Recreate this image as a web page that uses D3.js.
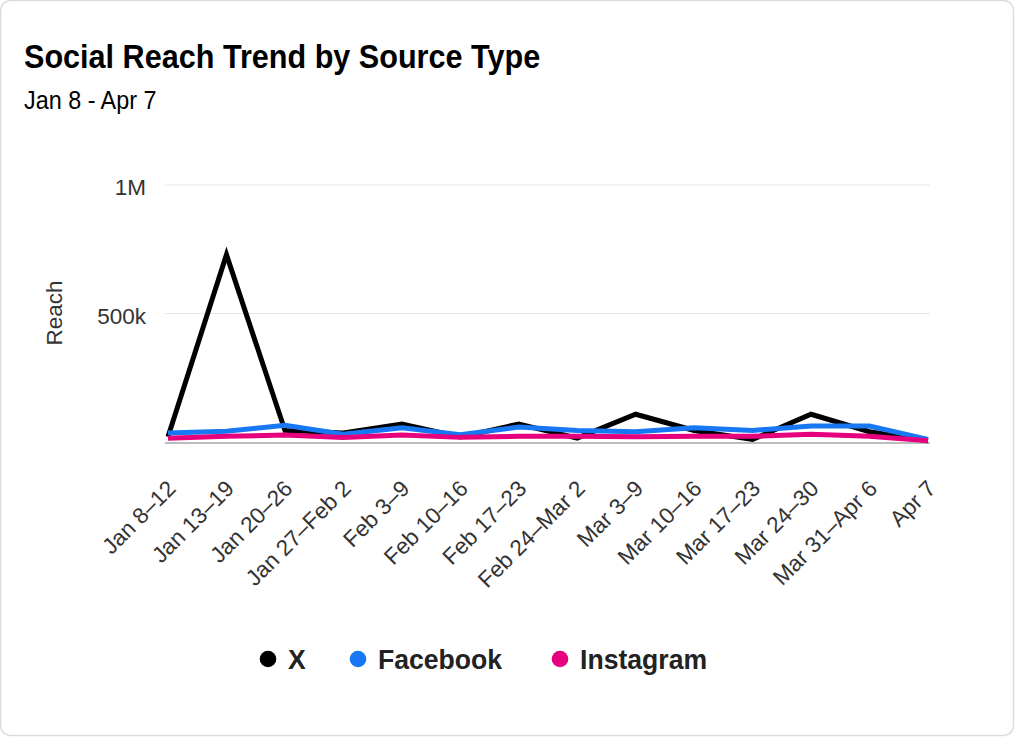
<!DOCTYPE html>
<html><head><meta charset="utf-8">
<script src="https://cdn.jsdelivr.net/npm/d3@7"></script>
<style>
html,body{margin:0;padding:0;background:#fff;}
body{font-family:"Liberation Sans",Arial,Helvetica,sans-serif;}
</style></head>
<body>
<svg id="chart" width="1015" height="737"></svg>
<script>
const categories = ["Jan 8–12","Jan 13–19","Jan 20–26","Jan 27–Feb 2","Feb 3–9","Feb 10–16","Feb 17–23","Feb 24–Mar 2","Mar 3–9","Mar 10–16","Mar 17–23","Mar 24–30","Mar 31–Apr 6","Apr 7"];
const xValues        = [20000,729000,45000,35000,70000,20000,70000,15000,108000,45000,10000,108000,40000,5000];
const facebookValues = [35000,42000,65000,30000,55000,28000,58000,45000,40000,55000,45000,62000,62000,10000];
const instagramValues= [15000,22000,27000,18000,27000,18000,22000,22000,20000,22000,22000,30000,22000,5000];
const yTicks = [500000, 1000000];
const yTickLabels = ["500k","1M"];
const seriesNames = ["X","Facebook","Instagram"];
const seriesColors = ["#000000","#1877F2","#E6007E"];

const svg = d3.select("#chart");
svg.append("rect").attr("x",0.5).attr("y",0.5).attr("width",1013).attr("height",735)
  .attr("rx",10).attr("fill","#fff").attr("stroke","#dcdcdc").attr("stroke-width",1.5);

svg.append("text").attr("transform","translate(24,68) scale(0.9,1)").text("Social Reach Trend by Source Type")
  .attr("font-size",34).attr("font-weight","bold").attr("fill","#000");
svg.append("text").attr("transform","translate(24,109) scale(0.935,1)").text("Jan 8 - Apr 7")
  .attr("font-size",25).attr("fill","#000");

const x = d3.scalePoint().domain(categories).range([168,928]);
const y = d3.scaleLinear().domain([0,1000000]).range([442,185]);

const g = svg.append("g");
g.selectAll(".grid").data(yTicks).join("line")
  .attr("x1",165).attr("x2",930).attr("y1",d=>y(d)).attr("y2",d=>y(d))
  .attr("stroke","#e6e6e6").attr("stroke-width",1);
g.selectAll(".ytl").data(yTicks).join("text")
  .attr("x",146).attr("y",d=>y(d)+10).attr("text-anchor","end")
  .attr("font-size",22.5).attr("fill","#333").text((d,i)=>yTickLabels[i]);
g.append("line").attr("x1",165).attr("x2",930).attr("y1",y(0)+1).attr("y2",y(0)+1)
  .attr("stroke","#bdbdbd").attr("stroke-width",2);

svg.append("text").attr("transform","translate(62,313) rotate(-90)")
  .attr("text-anchor","middle").attr("font-size",22.5).attr("fill","#333").text("Reach");

g.selectAll(".xtl").data(categories).join("text")
  .attr("transform",d=>`translate(${x(d)+9},${490}) rotate(-45)`)
  .attr("text-anchor","end").attr("font-size",22.5).attr("fill","#333").text(d=>d);

const seriesData = [xValues, facebookValues, instagramValues];
const line = d3.line().x((d,i)=>x(categories[i])).y(d=>y(d));
seriesData.forEach((vals,k)=>{
  g.append("path").datum(vals).attr("d",line).attr("fill","none")
    .attr("stroke",seriesColors[k]).attr("stroke-width",5).attr("stroke-linejoin","miter");
});

const legendX = [268, 358, 560];
seriesNames.forEach((n,k)=>{
  svg.append("circle").attr("cx",legendX[k]).attr("cy",659).attr("r",8.3).attr("fill",seriesColors[k]);
  svg.append("text").attr("transform",`translate(${legendX[k]+20},669) scale(0.95,1)`).attr("font-size",28)
    .attr("font-weight","bold").attr("fill","#222").text(n);
});
</script>
</body></html>
